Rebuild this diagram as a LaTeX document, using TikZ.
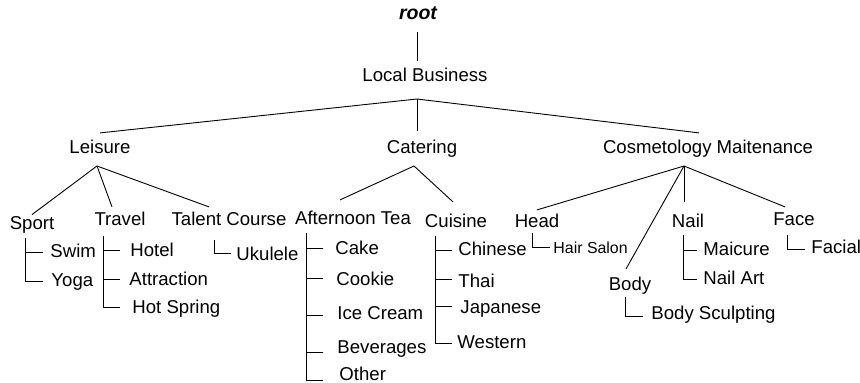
\documentclass[tikz,border=0pt]{standalone}
\usepackage{fontspec}
\setmainfont{Liberation Sans}
\usetikzlibrary{calc}
\begin{document}
\begin{tikzpicture}[x=1pt,y=-1pt, line width=0.9pt,
  every node/.style={font=\fontsize{18.6}{22}\selectfont, inner sep=0pt, text height=13.3pt, text depth=0pt},
  tree/.style={inner ysep=7pt},
  leaf/.style={anchor=west},
  small/.style={font=\fontsize{15.9}{19}\selectfont, text height=11.4pt}]
\useasboundingbox[fill=white] (0,0) rectangle (860,383);
% junctions
\coordinate (lbj) at (417,99);
\coordinate (jl) at (97,166);
\coordinate (jc) at (414,166);
\coordinate (jm) at (684,166);
% top
\node[tree, font=\fontsize{19.5}{22}\selectfont\bfseries\itshape] (root) at (418,13) {root};
\node[tree] (lb) at (425,75) {Local Business};
\draw ($(root.south -| lbj)+(0,5)$) -- (lb.north -| lbj);
% level 1
\node[tree] (leisure) at (100,147) {Leisure};
\node[tree] (catering) at (422,147) {Catering};
\node[tree] (cosm) at (708,147) {Cosmetology Maitenance};
\draw (lbj) -- (leisure.north);
\draw (lbj) -- ($(catering.north -| lbj)+(0,-2)$);
\draw (lbj) -- ($(cosm.north)+(-9,0)$);
% level 2
\node[tree] (sport) at (32,223) {Sport};
\node[tree] (travel) at (120,219) {Travel};
\node[tree] (talent) at (229,219) {Talent Course};
\node[tree] (atea) at (353,218) {Afternoon Tea};
\node[tree] (cuisine) at (456,221) {Cuisine};
\node[tree] (head) at (537,221) {Head};
\node[tree] (body) at (630,284) {Body};
\node[tree] (nail) at (688,221) {Nail};
\node[tree] (face) at (794,219) {Face};
\draw (jl) -- ($(sport.north)+(0,5.7)$);
\draw (jl) -- ($(travel.north)+(-8,2)$);
\draw (jl) -- ($(talent.north)+(-20,2)$);
\draw (jc) -- ($(atea.north)+(-13,-4)$);
\draw (jc) -- ($(cuisine.north)+(-3,-5)$);
\draw (jm) -- ($(head.north)+(0,3)$);
\draw (jm) -- ($(body.north)+(-4,-1)$);
\draw (jm) -- ($(nail.north -| jm)+(0,-5)$);
\draw (jm) -- ($(face.north)+(-9,2)$);
% leaves: Sport
\node[leaf] (swim) at (50,251) {Swim};
\node[leaf] (yoga) at (51,280) {Yoga};
\draw ($(sport.south)+(-7,1)$) |- ([xshift=-7pt,yshift=-1pt]swim.west)
      ($(sport.south)+(-7,1)$) |- ([xshift=-8pt,yshift=-1pt]yoga.west);
% Travel
\node[leaf] (hotel) at (130,250) {Hotel};
\node[leaf] (attr) at (129,279) {Attraction};
\node[leaf] (hots) at (132,307) {Hot Spring};
\draw ($(travel.south)+(-17,3)$) |- ([xshift=-10pt]hotel.west)
      ($(travel.south)+(-17,3)$) |- ([xshift=-9pt]attr.west)
      ($(travel.south)+(-17,3)$) |- ([xshift=-12pt]hots.west);
% Talent Course
\node[leaf] (ukulele) at (236,254) {Ukulele};
\draw ($(talent.south)+(-15,7)$) |- ([xshift=-5pt,yshift=1pt]ukulele.west);
% Afternoon Tea
\node[leaf] (cake) at (335,248) {Cake};
\node[leaf] (cookie) at (336,279) {Cookie};
\node[leaf] (icecream) at (337,313) {Ice Cream};
\node[leaf] (bev) at (337,347) {Beverages};
\node[leaf] (other) at (339,373.5) {Other};
\draw ($(atea.south)+(-47,1)$) |- ([xshift=-12pt]cake.west)
      ($(atea.south)+(-47,1)$) |- ([xshift=-13pt,yshift=1pt]cookie.west)
      ($(atea.south)+(-47,1)$) |- ([xshift=-14pt,yshift=-2pt]icecream.west)
      ($(atea.south)+(-47,1)$) |- ([xshift=-14pt,yshift=-5pt]bev.west)
      ($(atea.south)+(-47,1)$) |- ([xshift=-16pt,yshift=-7pt]other.west);
% Cuisine
\node[leaf] (chinese) at (458,249) {Chinese};
\node[leaf] (thai) at (458,281) {Thai};
\node[leaf] (japanese) at (460,307) {Japanese};
\node[leaf] (western) at (457,342) {Western};
\draw ($(cuisine.south)+(-21,1)$) |- ([xshift=-6pt,yshift=-1pt]chinese.west)
      ($(cuisine.south)+(-21,1)$) |- ([xshift=-6pt,yshift=2pt]thai.west)
      ($(cuisine.south)+(-21,1)$) |- ([xshift=-8pt,yshift=1pt]japanese.west)
      ($(cuisine.south)+(-21,1)$) |- ([xshift=-5pt,yshift=-1pt]western.west);
% Head
\node[leaf, small] (hair) at (553,248) {Hair Salon};
\draw ($(head.south)+(-5,-2)$) |- ([xshift=-3pt,yshift=1pt]hair.west);
% Body
\node[leaf] (sculpt) at (651,313) {Body Sculpting};
\draw ($(body.south)+(-5,-1)$) |- ([xshift=-8pt,yshift=-3pt]sculpt.west);
% Nail
\node[leaf] (maicure) at (703,249) {Maicure};
\node[leaf] (nailart) at (703,278) {Nail Art};
\draw ($(nail.south)+(-5,0)$) |- ([xshift=-6pt,yshift=-1pt]maicure.west)
      ($(nail.south)+(-5,0)$) |- ([xshift=-6pt,yshift=-1pt]nailart.west);
% Face
\node[leaf] (facial) at (811,247) {Facial};
\draw ($(face.south)+(-7,2)$) |- ([xshift=-6pt,yshift=-2pt]facial.west);
\end{tikzpicture}
\end{document}
